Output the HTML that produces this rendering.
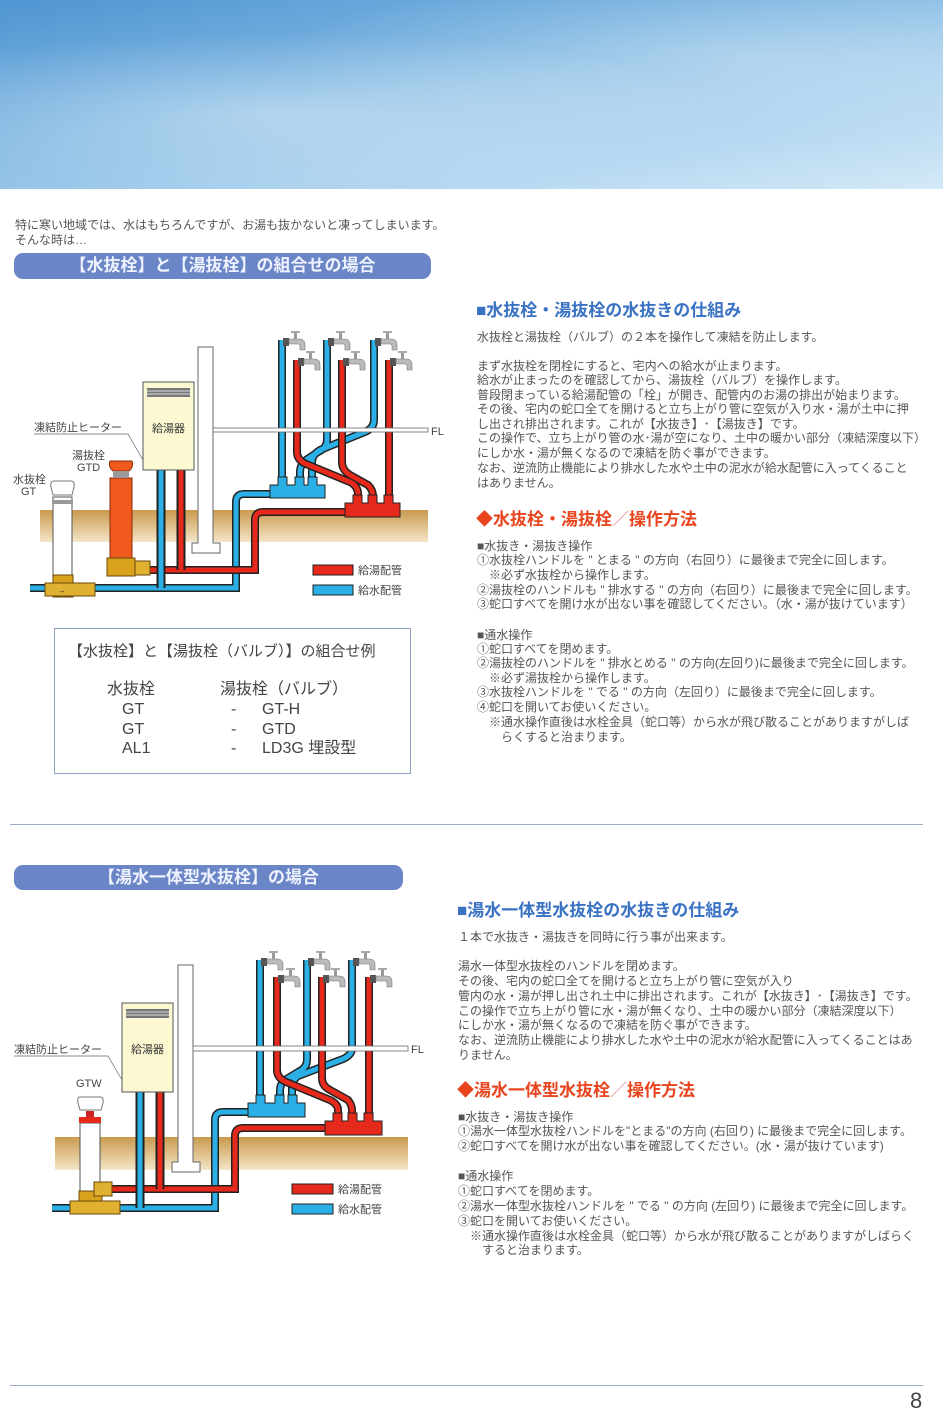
<!DOCTYPE html>
<html><head><meta charset="utf-8"><style>
body{margin:0;background:#fff;}
#p{position:relative;width:950px;height:1425px;overflow:hidden;background:#fff;font-family:"Liberation Sans","Noto Sans CJK JP",sans-serif;color:#555;}
.t{position:absolute;white-space:nowrap;font-size:12px;line-height:16px;}
.h{position:absolute;white-space:nowrap;font-size:17px;line-height:20px;font-weight:bold;}
.bar{position:absolute;background:#6b86c6;border-radius:9px;color:#eef2ff;font-size:17px;font-weight:bold;text-align:center;line-height:26px;}
.b{position:absolute;white-space:nowrap;font-size:16px;line-height:18px;color:#444;}
</style></head><body><div id="p">
<div style="position:absolute;left:0;top:0;width:943px;height:189px;background:linear-gradient(170deg,#4f95d2 0%,#79b3e0 35%,#a9d0ee 65%,#d3e9f7 100%);"></div>
<div style="position:absolute;left:0;top:0;width:943px;height:189px;background:radial-gradient(ellipse at 30% 60%,rgba(255,255,255,.35),rgba(255,255,255,0) 50%),radial-gradient(ellipse at 80% 30%,rgba(255,255,255,.25),rgba(255,255,255,0) 45%);"></div>

<div class="t" style="left:15px;top:217px;">特に寒い地域では、水はもちろんですが、お湯も抜かないと凍ってしまいます。</div>
<div class="t" style="left:15px;top:232px;">そんな時は…</div>
<div class="bar" style="left:14px;top:253px;width:417px;height:26px;">【水抜栓】と【湯抜栓】の組合せの場合</div>

<div class="h" style="left:476px;top:301px;color:#3a72c4;">■水抜栓・湯抜栓の水抜きの仕組み</div>
<div class="t" style="left:477px;top:329px;">水抜栓と湯抜栓（バルブ）の２本を操作して凍結を防止します。</div>
<div class="t" style="left:477px;top:358px;">まず水抜栓を閉栓にすると、宅内への給水が止まります。</div>
<div class="t" style="left:477px;top:372px;">給水が止まったのを確認してから、湯抜栓（バルブ）を操作します。</div>
<div class="t" style="left:477px;top:387px;">普段閉まっている給湯配管の「栓」が開き、配管内のお湯の排出が始まります。</div>
<div class="t" style="left:477px;top:401px;">その後、宅内の蛇口全てを開けると立ち上がり管に空気が入り水・湯が土中に押</div>
<div class="t" style="left:477px;top:416px;">し出され排出されます。これが【水抜き】･【湯抜き】です。</div>
<div class="t" style="left:477px;top:430px;">この操作で、立ち上がり管の水･湯が空になり、土中の暖かい部分（凍結深度以下）</div>
<div class="t" style="left:477px;top:445px;">にしか水・湯が無くなるので凍結を防ぐ事ができます。</div>
<div class="t" style="left:477px;top:460px;">なお、逆流防止機能により排水した水や土中の泥水が給水配管に入ってくること</div>
<div class="t" style="left:477px;top:475px;">はありません。</div>
<div class="h" style="left:476px;top:510px;color:#e8451e;">◆水抜栓・湯抜栓<span style="font-weight:normal;color:#e88">／</span>操作方法</div>
<div class="t" style="left:477px;top:538px;">■水抜き・湯抜き操作</div>
<div class="t" style="left:477px;top:552px;">①水抜栓ハンドルを " とまる " の方向（右回り）に最後まで完全に回します。</div>
<div class="t" style="left:489px;top:567px;">※必ず水抜栓から操作します。</div>
<div class="t" style="left:477px;top:582px;">②湯抜栓のハンドルも " 排水する " の方向（右回り）に最後まで完全に回します。</div>
<div class="t" style="left:477px;top:596px;">③蛇口すべてを開け水が出ない事を確認してください。（水・湯が抜けています）</div>
<div class="t" style="left:477px;top:627px;">■通水操作</div>
<div class="t" style="left:477px;top:641px;">①蛇口すべてを閉めます。</div>
<div class="t" style="left:477px;top:655px;">②湯抜栓のハンドルを " 排水とめる " の方向(左回り)に最後まで完全に回します。</div>
<div class="t" style="left:489px;top:670px;">※必ず湯抜栓から操作します。</div>
<div class="t" style="left:477px;top:684px;">③水抜栓ハンドルを " でる " の方向（左回り）に最後まで完全に回します。</div>
<div class="t" style="left:477px;top:699px;">④蛇口を開いてお使いください。</div>
<div class="t" style="left:489px;top:714px;">※通水操作直後は水栓金具（蛇口等）から水が飛び散ることがありますがしば</div>
<div class="t" style="left:501px;top:729px;">らくすると治まります。</div>

<div style="position:absolute;left:54px;top:628px;width:355px;height:144px;border:1px solid #8fa2c2;"></div>
<div class="b" style="left:68px;top:643px;font-size:15px;">【水抜栓】と【湯抜栓（バルブ）】の組合せ例</div>
<div class="b" style="left:107px;top:681px;">水抜栓</div><div class="b" style="left:220px;top:681px;">湯抜栓（バルブ）</div>
<div class="b" style="left:122px;top:701px;">GT</div><div class="b" style="left:231px;top:701px;">-</div><div class="b" style="left:262px;top:701px;">GT-H</div>
<div class="b" style="left:122px;top:721px;">GT</div><div class="b" style="left:231px;top:721px;">-</div><div class="b" style="left:262px;top:721px;">GTD</div>
<div class="b" style="left:122px;top:740px;">AL1</div><div class="b" style="left:231px;top:740px;">-</div><div class="b" style="left:262px;top:740px;">LD3G 埋設型</div>

<div style="position:absolute;left:10px;top:824px;width:913px;height:1px;background:#9aaac4;"></div>

<div class="bar" style="left:14px;top:865px;width:389px;height:25px;line-height:25px;">【湯水一体型水抜栓】の場合</div>
<div class="h" style="left:457px;top:901px;color:#3a72c4;">■湯水一体型水抜栓の水抜きの仕組み</div>
<div class="t" style="left:458px;top:929px;">１本で水抜き・湯抜きを同時に行う事が出来ます。</div>
<div class="t" style="left:458px;top:958px;">湯水一体型水抜栓のハンドルを閉めます。</div>
<div class="t" style="left:458px;top:973px;">その後、宅内の蛇口全てを開けると立ち上がり管に空気が入り</div>
<div class="t" style="left:458px;top:988px;">管内の水・湯が押し出され土中に排出されます。これが【水抜き】･【湯抜き】です。</div>
<div class="t" style="left:458px;top:1003px;">この操作で立ち上がり管に水・湯が無くなり、土中の暖かい部分（凍結深度以下）</div>
<div class="t" style="left:458px;top:1017px;">にしか水・湯が無くなるので凍結を防ぐ事ができます。</div>
<div class="t" style="left:458px;top:1032px;">なお、逆流防止機能により排水した水や土中の泥水が給水配管に入ってくることはあ</div>
<div class="t" style="left:458px;top:1047px;">りません。</div>
<div class="h" style="left:457px;top:1081px;color:#e8451e;">◆湯水一体型水抜栓<span style="font-weight:normal;color:#e88">／</span>操作方法</div>
<div class="t" style="left:458px;top:1109px;">■水抜き・湯抜き操作</div>
<div class="t" style="left:458px;top:1123px;">①湯水一体型水抜栓ハンドルを"とまる"の方向 (右回り) に最後まで完全に回します。</div>
<div class="t" style="left:458px;top:1138px;">②蛇口すべてを開け水が出ない事を確認してください。(水・湯が抜けています)</div>
<div class="t" style="left:458px;top:1168px;">■通水操作</div>
<div class="t" style="left:458px;top:1183px;">①蛇口すべてを閉めます。</div>
<div class="t" style="left:458px;top:1198px;">②湯水一体型水抜栓ハンドルを " でる " の方向 (左回り) に最後まで完全に回します。</div>
<div class="t" style="left:458px;top:1213px;">③蛇口を開いてお使いください。</div>
<div class="t" style="left:470px;top:1228px;">※通水操作直後は水栓金具（蛇口等）から水が飛び散ることがありますがしばらく</div>
<div class="t" style="left:482px;top:1242px;">すると治まります。</div>

<div style="position:absolute;left:10px;top:1385px;width:913px;height:1px;background:#9aaac4;"></div>
<div style="position:absolute;left:910px;top:1388px;font-size:22px;color:#444;">8</div>

<svg width="950" height="1425" style="position:absolute;left:0;top:0;" font-family="Liberation Sans, Noto Sans CJK JP, sans-serif">
<defs><linearGradient id="g" x1="0" y1="0" x2="0" y2="1"><stop offset="0" stop-color="#c99a4e"/><stop offset="1" stop-color="#f4e6c8"/></linearGradient>
<g id="fc"><rect x="-3" y="-4" width="6" height="8" fill="#555"/><path d="M3 -3 h10 q6 0 6 6 v5 h-5 v-4 q0 -2 -2 -2 h-9z" fill="#bbb" stroke="#777" stroke-width=".6"/><rect x="8" y="-9" width="3" height="6" fill="#999"/><rect x="5" y="-11" width="9" height="2" fill="#aaa"/></g></defs>

<!-- Diagram 1 -->
<rect x="40" y="510" width="388" height="32" fill="url(#g)"/>
<g fill="none" stroke-linecap="butt">
<path d="M30 588 H236 V502 Q236 494 244 494 H272" stroke="#222" stroke-width="8"/><path d="M30 588 H236 V502 Q236 494 244 494 H272" stroke="#2ab0e6" stroke-width="5"/>
<path d="M150 570 H255 V520 Q255 512 263 512 H346" stroke="#222" stroke-width="8"/><path d="M150 570 H255 V520 Q255 512 263 512 H346" stroke="#e52a1c" stroke-width="5"/>
<path d="M161 470 V588" stroke="#222" stroke-width="9"/><path d="M161 470 V588" stroke="#2ab0e6" stroke-width="5"/>
<path d="M181 470 V570" stroke="#222" stroke-width="9"/><path d="M181 470 V570" stroke="#e52a1c" stroke-width="5"/>
<g stroke="#222" stroke-width="8"><path d="M282 340 V480"/><path d="M327 340 V440 Q327 448 318 452 L306 460 Q300 465 300 472 V480"/><path d="M374 340 V420 Q374 428 365 432 L320 450 Q312 455 312 462 V480"/></g>
<g stroke="#2ab0e6" stroke-width="5"><path d="M282 340 V480"/><path d="M327 340 V440 Q327 448 318 452 L306 460 Q300 465 300 472 V480"/><path d="M374 340 V420 Q374 428 365 432 L320 450 Q312 455 312 462 V480"/></g>
<g stroke="#222" stroke-width="8"><path d="M297 360 V452 Q297 460 306 464 L350 482 Q358 486 358 494 V500"/><path d="M342 360 V462 Q342 470 350 475 L368 485 Q373 490 373 496 V500"/><path d="M389 360 V500"/></g>
<g stroke="#e52a1c" stroke-width="5"><path d="M297 360 V452 Q297 460 306 464 L350 482 Q358 486 358 494 V500"/><path d="M342 360 V462 Q342 470 350 475 L368 485 Q373 490 373 496 V500"/><path d="M389 360 V500"/></g>
</g>
<path d="M270 498 V485 H278 V477 H287 V485 H295 V477 H304 V485 H308 V477 H317 V485 H325 V498Z" fill="#2ab0e6" stroke="#222"/>
<path d="M345 517 V503 H353 V495 H362 V503 H368 V495 H377 V503 H384 V495 H393 V503 H400 V517Z" fill="#e52a1c" stroke="#222"/>
<use href="#fc" x="286" y="342"/><use href="#fc" x="331" y="342"/><use href="#fc" x="378" y="342"/>
<use href="#fc" x="301" y="362"/><use href="#fc" x="346" y="362"/><use href="#fc" x="393" y="362"/>
<path d="M198 347 H213 V543 H220 V553 H192 V543 H198Z" fill="#fff" stroke="#666"/>
<rect x="213" y="428" width="215" height="4" fill="#fff" stroke="#666" stroke-width=".8"/>
<text x="431" y="435" font-size="11" fill="#444">FL</text>
<rect x="143" y="382" width="51" height="88" fill="#fbf8d2" stroke="#555"/>
<rect x="147" y="388" width="43" height="9" fill="#777"/><line x1="147" y1="391" x2="190" y2="391" stroke="#ddd"/><line x1="147" y1="394" x2="190" y2="394" stroke="#ddd"/>
<text x="152" y="432" font-size="11" fill="#333">給湯器</text>
<text x="34" y="431" font-size="11" fill="#444">凍結防止ヒーター</text>
<path d="M34 434 H128 L143 460" fill="none" stroke="#666" stroke-width=".7"/>
<text x="72" y="459" font-size="11" fill="#444">湯抜栓</text><text x="77" y="471" font-size="11" fill="#444">GTD</text>
<text x="13" y="483" font-size="11" fill="#444">水抜栓</text><text x="21" y="495" font-size="11" fill="#444">GT</text>
<rect x="53" y="497" width="19" height="78" fill="#fff" stroke="#555"/>
<path d="M54 481 h17 q4 0 3 6 l-2 8 h-19 l-2 -8 q-1 -6 3 -6z" fill="#fff" stroke="#777"/>
<rect x="52" y="500" width="21" height="4" fill="#999"/>
<rect x="110" y="478" width="22" height="85" fill="#f05a1e" stroke="#8a2a08"/>
<path d="M110 461 h22 q2 6 -3 10 h-16 q-5 -4 -3 -10z" fill="#f05a1e" stroke="#8a2a08"/>
<rect x="113" y="471" width="16" height="7" fill="#999"/>
<rect x="107" y="558" width="28" height="18" fill="#d9a21c" stroke="#6a4a08"/><rect x="135" y="561" width="15" height="14" fill="#e0b030" stroke="#6a4a08"/>
<rect x="53" y="575" width="20" height="22" fill="#d9a21c" stroke="#6a4a08"/><rect x="45" y="583" width="50" height="13" fill="#e0b030" stroke="#6a4a08"/>
<text x="58" y="593" font-size="8" fill="#333">→</text>
<rect x="313" y="565" width="40" height="10" fill="#e52a1c" stroke="#222"/><text x="358" y="574" font-size="11" fill="#444">給湯配管</text>
<rect x="313" y="585" width="40" height="10" fill="#2ab0e6" stroke="#222"/><text x="358" y="594" font-size="11" fill="#444">給水配管</text>

<!-- Diagram 2 -->
<rect x="55" y="1137" width="353" height="33" fill="url(#g)"/>
<g fill="none">
<path d="M52 1208 H215 V1120 Q215 1112 223 1112 H250" stroke="#222" stroke-width="8"/><path d="M52 1208 H215 V1120 Q215 1112 223 1112 H250" stroke="#2ab0e6" stroke-width="5"/>
<path d="M110 1189 H235 V1136 Q235 1128 243 1128 H326" stroke="#222" stroke-width="8"/><path d="M110 1189 H235 V1136 Q235 1128 243 1128 H326" stroke="#e52a1c" stroke-width="5"/>
<path d="M140 1092 V1208" stroke="#222" stroke-width="9"/><path d="M140 1092 V1208" stroke="#2ab0e6" stroke-width="5"/>
<path d="M160 1092 V1189" stroke="#222" stroke-width="9"/><path d="M160 1092 V1189" stroke="#e52a1c" stroke-width="5"/>
<g stroke="#222" stroke-width="8"><path d="M260 960 V1098"/><path d="M307 960 V1060 Q307 1068 298 1072 L285 1080 Q280 1084 280 1090 V1098"/><path d="M352 960 V1048 Q352 1055 343 1059 L298 1076 Q292 1080 292 1088 V1098"/></g>
<g stroke="#2ab0e6" stroke-width="5"><path d="M260 960 V1098"/><path d="M307 960 V1060 Q307 1068 298 1072 L285 1080 Q280 1084 280 1090 V1098"/><path d="M352 960 V1048 Q352 1055 343 1059 L298 1076 Q292 1080 292 1088 V1098"/></g>
<g stroke="#222" stroke-width="8"><path d="M277 977 V1070 Q277 1078 286 1082 L330 1100 Q338 1104 338 1110 V1116"/><path d="M322 977 V1078 Q322 1086 330 1090 L348 1100 Q352 1105 352 1110 V1116"/><path d="M369 977 V1116"/></g>
<g stroke="#e52a1c" stroke-width="5"><path d="M277 977 V1070 Q277 1078 286 1082 L330 1100 Q338 1104 338 1110 V1116"/><path d="M322 977 V1078 Q322 1086 330 1090 L348 1100 Q352 1105 352 1110 V1116"/><path d="M369 977 V1116"/></g>
</g>
<path d="M248 1117 V1103 H256 V1095 H265 V1103 H275 V1095 H284 V1103 H288 V1095 H297 V1103 H305 V1117Z" fill="#2ab0e6" stroke="#222"/>
<path d="M325 1135 V1121 H333 V1113 H342 V1121 H348 V1113 H357 V1121 H364 V1113 H373 V1121 H382 V1135Z" fill="#e52a1c" stroke="#222"/>
<use href="#fc" x="264" y="962"/><use href="#fc" x="311" y="962"/><use href="#fc" x="356" y="962"/>
<use href="#fc" x="281" y="979"/><use href="#fc" x="326" y="979"/><use href="#fc" x="373" y="979"/>
<path d="M178 965 H193 V1162 H200 V1172 H172 V1162 H178Z" fill="#fff" stroke="#666"/>
<rect x="193" y="1046" width="215" height="5" fill="#fff" stroke="#666" stroke-width=".8"/>
<text x="411" y="1053" font-size="11" fill="#444">FL</text>
<rect x="122" y="1003" width="51" height="89" fill="#fbf8d2" stroke="#555"/>
<rect x="126" y="1009" width="43" height="9" fill="#777"/><line x1="126" y1="1012" x2="169" y2="1012" stroke="#ddd"/><line x1="126" y1="1015" x2="169" y2="1015" stroke="#ddd"/>
<text x="131" y="1053" font-size="11" fill="#333">給湯器</text>
<text x="14" y="1053" font-size="11" fill="#444">凍結防止ヒーター</text>
<path d="M14 1056 H108 L122 1080" fill="none" stroke="#666" stroke-width=".7"/>
<text x="76" y="1087" font-size="11" fill="#444">GTW</text>
<rect x="80" y="1123" width="20" height="70" fill="#fff" stroke="#555"/>
<path d="M80 1097 h20 q4 0 3 6 l-2 7 h-21 l-2 -7 q-1 -6 2 -6z" fill="#fff" stroke="#777"/>
<rect x="79" y="1117" width="22" height="6" fill="#e52a1c"/><rect x="86" y="1111" width="8" height="6" fill="#c22"/>
<rect x="79" y="1191" width="23" height="22" fill="#d9a21c" stroke="#6a4a08"/>
<rect x="94" y="1182" width="18" height="14" fill="#e0b030" stroke="#6a4a08"/>
<rect x="70" y="1201" width="50" height="13" fill="#e0b030" stroke="#6a4a08"/>
<rect x="292" y="1184" width="41" height="10" fill="#e52a1c" stroke="#222"/><text x="338" y="1193" font-size="11" fill="#444">給湯配管</text>
<rect x="292" y="1204" width="41" height="10" fill="#2ab0e6" stroke="#222"/><text x="338" y="1213" font-size="11" fill="#444">給水配管</text>
</svg>
</div></body></html>
